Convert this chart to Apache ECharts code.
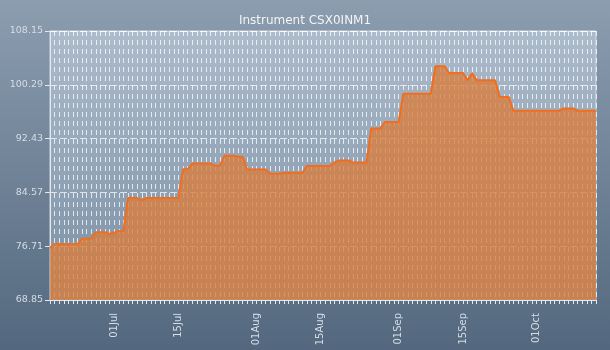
<!DOCTYPE html>
<html>
<head>
<meta charset="utf-8">
<title>Instrument CSX0INM1</title>
<script src="https://cdn.jsdelivr.net/npm/echarts@6/dist/echarts.min.js"></script>
<style>
  html, body { margin: 0; padding: 0; }
  #chart { width: 610px; height: 350px; }
</style>
</head>
<body>
<div id="chart"></div>
<script>
// Daily closing levels, 17 Jun to 14 Oct
const titleText = 'Instrument CSX0INM1';
const startDay = { year: 2013, month: 5, day: 17 }; // 17 Jun
const dayCount = 120;

const values = [
  76.5,
  77.0, 77.0, 77.0, 77.0, 77.0, 77.0,
  77.8, 77.8, 77.8,
  78.75, 78.75, 78.75,
  78.5, 78.7, 78.93, 78.93,
  83.74, 83.74, 83.74, 83.4,
  83.74, 83.74, 83.74, 83.74, 83.74, 83.74, 83.74, 83.74,
  87.97, 87.97,
  88.79, 88.79, 88.79, 88.79, 88.79,
  88.46, 88.46,
  89.91, 89.91, 89.91,
  89.77, 89.77,
  87.92, 87.92, 87.92, 87.92, 87.92,
  87.29, 87.29, 87.29,
  87.44, 87.44, 87.44, 87.44, 87.44,
  88.41, 88.41, 88.41, 88.41, 88.41, 88.41,
  88.94, 89.23, 89.23, 89.23,
  88.94, 88.94, 88.94, 88.94,
  93.89, 93.89, 93.89,
  94.86, 94.86, 94.86, 94.86,
  99.0, 99.0, 99.0, 99.0, 99.0, 99.0, 99.0,
  103.01, 103.01, 103.01,
  102.01, 102.01, 102.01, 102.01,
  100.97, 101.97,
  100.97, 100.97, 100.97, 100.97, 100.97,
  98.5, 98.5, 98.5,
  96.5, 96.5, 96.5, 96.5, 96.5, 96.5, 96.5, 96.5, 96.5, 96.5, 96.5,
  96.84, 96.84, 96.84,
  96.5, 96.5, 96.5, 96.5, 96.5
];

const yTicks = [68.85, 76.71, 84.57, 92.43, 100.29, 108.15];
const monthNames = ['Jan','Feb','Mar','Apr','May','Jun','Jul','Aug','Sep','Oct','Nov','Dec'];

// Calendar labels such as "01Jul"
const dates = [];
for (let i = 0; i < dayCount; i++) {
  const d = new Date(startDay.year, startDay.month, startDay.day + i);
  dates.push(String(d.getDate()).padStart(2, '0') + monthNames[d.getMonth()]);
}

const chart = echarts.init(document.getElementById('chart'), null, { renderer: 'canvas' });

chart.setOption({
  animation: false,
  backgroundColor: new echarts.graphic.LinearGradient(0, 0, 0, 1, [
    { offset: 0, color: '#8c9db0' },
    { offset: 1, color: '#53687e' }
  ]),
  title: {
    text: titleText,
    left: 'center',
    top: 10,
    textStyle: { color: '#f2f4f6', fontSize: 12, fontWeight: 'normal', fontFamily: 'DejaVu Sans' }
  },
  grid: {
    left: 50, right: 14, top: 31, bottom: 50,
    show: true,
    borderColor: 'rgba(225,232,240,0.85)',
    borderWidth: 1,
    backgroundColor: new echarts.graphic.LinearGradient(0, 0, 0, 1, [
      { offset: 0, color: '#adbccb' },
      { offset: 1, color: '#7a8fa4' }
    ])
  },
  xAxis: {
    type: 'category',
    data: dates,
    boundaryGap: false,
    axisLine: { show: true, lineStyle: { color: '#e3e8ee', width: 1 } },
    axisTick: { show: true, interval: 0, length: 4, lineStyle: { color: '#e3e8ee' } },
    axisLabel: {
      interval: (idx, val) => val.startsWith('01') || val.startsWith('15'),
      rotate: 90,
      margin: 13,
      color: '#d6dde5',
      fontSize: 10,
      fontFamily: 'DejaVu Sans'
    },
    splitLine: {
      show: true,
      interval: 0,
      lineStyle: { color: 'rgba(255,255,255,0.75)', width: 1, type: [5, 4] }
    }
  },
  yAxis: {
    type: 'value',
    min: yTicks[0],
    max: yTicks[yTicks.length - 1],
    interval: yTicks[1] - yTicks[0],
    axisLine: { show: true, lineStyle: { color: '#e3e8ee', width: 1 } },
    axisTick: { show: true, length: 5, lineStyle: { color: '#e3e8ee' } },
    axisLabel: {
      color: '#d6dde5',
      fontSize: 9.5,
      fontFamily: 'DejaVu Sans',
      margin: 7,
      formatter: v => v.toFixed(2)
    },
    splitLine: {
      show: true,
      lineStyle: { color: 'rgba(255,255,255,0.7)', width: 1, type: [7, 3] }
    }
  },
  series: [{
    type: 'line',
    data: values,
    showSymbol: false,
    lineStyle: { color: '#f26d1e', width: 2 },
    areaStyle: { color: 'rgba(216,126,62,0.8)', opacity: 1, origin: 'start' }
  }]
});
</script>
</body>
</html>
